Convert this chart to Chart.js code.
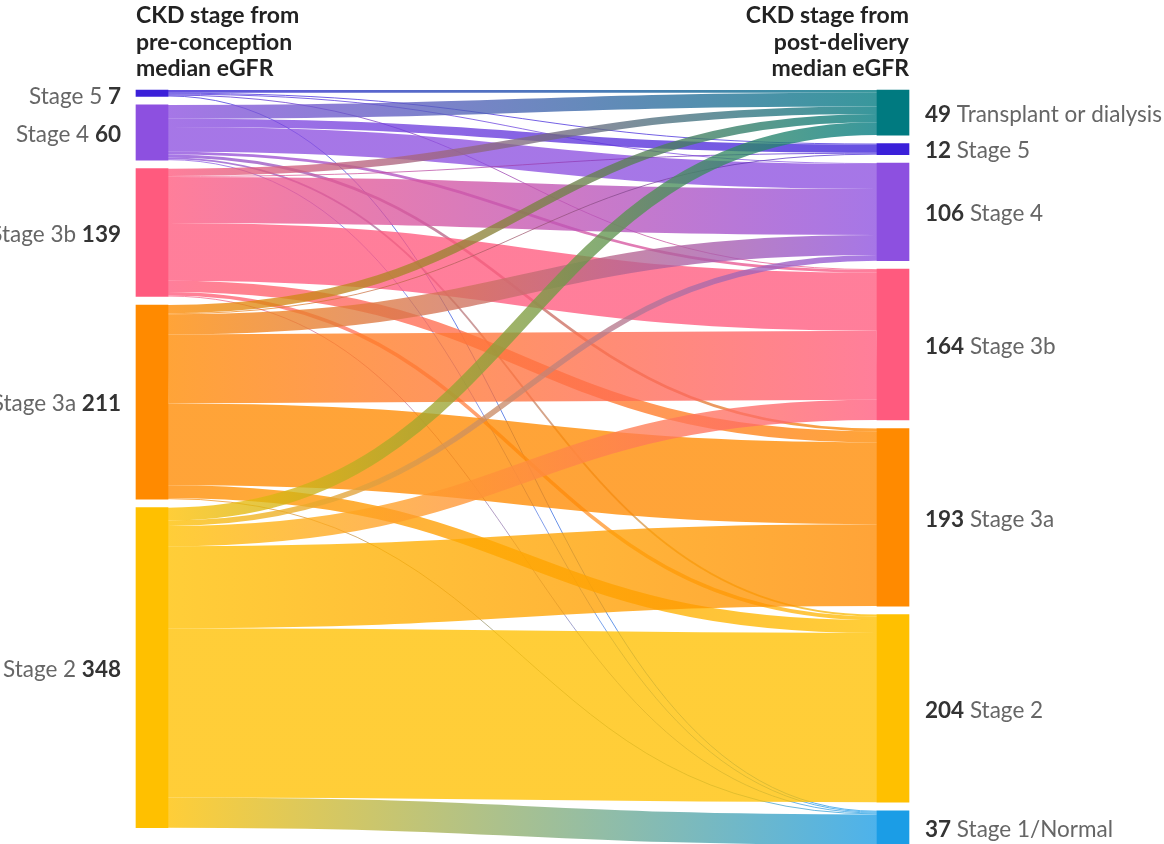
<!DOCTYPE html>
<html><head><meta charset="utf-8">
<script src="https://cdn.jsdelivr.net/npm/chart.js@4/dist/chart.umd.min.js"></script>
<style>html,body{margin:0;padding:0;background:#fff;overflow:hidden}#wrap{width:1164px;height:844px;position:relative}</style>
</head><body><div id="wrap"><canvas id="c"></canvas></div>
<script>
// ---- data ----
const sourceLabels = ['Stage 5', 'Stage 4', 'Stage 3b', 'Stage 3a', 'Stage 2'];
const targetLabels = ['Transplant or dialysis', 'Stage 5', 'Stage 4', 'Stage 3b', 'Stage 3a', 'Stage 2', 'Stage 1/Normal'];
// patients moving from each pre-conception stage into each post-delivery stage (order of targetLabels)
const fromStage5  = [3, 1, 1, 1, 0, 0, 1];
const fromStage4  = [15, 9, 27, 3, 3, 2, 1];
const fromStage3b = [8, 1, 50, 63, 12, 4, 1];
const fromStage3a = [9, 1, 22, 75, 89, 14, 1];
const fromStage2  = [14, 0, 6, 22, 89, 184, 33];
const leftTitle  = ['CKD stage from', 'pre-conception', 'median eGFR'];
const rightTitle = ['CKD stage from', 'post-delivery', 'median eGFR'];

// ---- styles ----
const sourceColors = ['#3b20d9', '#8d50e0', '#ff5a7e', '#ff8a00', '#ffc000'];
const targetColors = ['#007a80', '#3b20d9', '#8d50e0', '#ff5a7e', '#ff8a00', '#ffc000', '#1b9de6'];
const FONT = 'Lato, "Open Sans", sans-serif';

const flows = [fromStage5, fromStage4, fromStage3b, fromStage3a, fromStage2];
const sourceTotals = flows.map(r => r.reduce((a, b) => a + b, 0));
const targetTotals = targetLabels.map((_, j) => flows.reduce((a, r) => a + r[j], 0));

const GAP = 9.24;          // gap between nodes, in value units
const NODE_W = 32 / 773;   // node width as fraction of x range
const Y_MAX = 819.6;

function stack(totals) {
  let y = 0;
  return totals.map(t => { const n = [y, y + t]; y += t + GAP; return n; });
}
const srcPos = stack(sourceTotals);
const tgtPos = stack(targetTotals);

const linkPlugin = {
  id: 'links',
  beforeDatasetsDraw(chart) {
    const ctx = chart.ctx, xs = chart.scales.x, ys = chart.scales.y;
    const x0 = xs.getPixelForValue(NODE_W), x1 = xs.getPixelForValue(1 - NODE_W);
    const xm = (x0 + x1) / 2;
    const tOff = targetTotals.map(() => 0);
    const links = [];
    flows.forEach((row, i) => {
      let sOff = 0;
      row.forEach((v, j) => {
        if (v <= 0) return;
        links.push({ i, j, v, sy: srcPos[i][0] + sOff + v / 2 });
        sOff += v;
      });
    });
    links.forEach(l => {
      l.ty = tgtPos[l.j][0] + tOff[l.j] + l.v / 2;
      tOff[l.j] += l.v;
    });
    ctx.save();
    ctx.globalAlpha = 0.78;
    ctx.lineCap = 'butt';
    links.forEach(l => {
      const ya = ys.getPixelForValue(l.sy), yb = ys.getPixelForValue(l.ty);
      const w = Math.abs(ys.getPixelForValue(l.v) - ys.getPixelForValue(0));
      const g = ctx.createLinearGradient(x0, 0, x1, 0);
      g.addColorStop(0, sourceColors[l.i]);
      g.addColorStop(1, targetColors[l.j]);
      ctx.strokeStyle = g;
      ctx.lineWidth = w;
      ctx.beginPath();
      ctx.moveTo(x0, ya);
      ctx.bezierCurveTo(xm, ya, xm, yb, x1, yb);
      ctx.stroke();
    });
    ctx.restore();
  },
  afterDraw(chart) {
    const ctx = chart.ctx, xs = chart.scales.x, ys = chart.scales.y;
    ctx.save();
    ctx.textBaseline = 'middle';
    const reg = '22.5px ' + FONT, bold = 'bold 22.5px ' + FONT;
    const lx = xs.getPixelForValue(0) - 15;
    sourceLabels.forEach((name, i) => {
      const yc = ys.getPixelForValue((srcPos[i][0] + srcPos[i][1]) / 2) + (i === 0 ? 4 : 2);
      ctx.textAlign = 'right';
      ctx.font = bold; ctx.fillStyle = '#333';
      const val = String(sourceTotals[i]);
      ctx.fillText(val, lx, yc);
      const vw = ctx.measureText(val).width;
      ctx.font = reg; ctx.fillStyle = '#666';
      ctx.fillText(name + ' ', lx - vw, yc);
    });
    const rx = xs.getPixelForValue(1) + 16;
    targetLabels.forEach((name, j) => {
      const yc = ys.getPixelForValue((tgtPos[j][0] + tgtPos[j][1]) / 2) + 2;
      ctx.textAlign = 'left';
      ctx.font = bold; ctx.fillStyle = '#333';
      const val = String(targetTotals[j]);
      ctx.fillText(val, rx, yc);
      const vw = ctx.measureText(val).width;
      ctx.font = reg; ctx.fillStyle = '#666';
      ctx.fillText(' ' + name, rx + vw, yc);
    });
    ctx.font = 'bold 23px ' + FONT; ctx.fillStyle = '#222';
    ctx.textBaseline = 'alphabetic';
    ctx.textAlign = 'left';
    leftTitle.forEach((t, k) => ctx.fillText(t, xs.getPixelForValue(0), 23 + k * 26.5));
    ctx.textAlign = 'right';
    rightTitle.forEach((t, k) => ctx.fillText(t, xs.getPixelForValue(1), 23 + k * 26.5));
    ctx.restore();
  }
};

new Chart(document.getElementById('c'), {
  type: 'bar',
  data: {
    datasets: [
      {
        label: 'pre-conception',
        data: sourceTotals.map((_, i) => ({ x: NODE_W / 2, y: srcPos[i] })),
        backgroundColor: sourceColors,
        barThickness: 32,
        grouped: false,
        clip: false
      },
      {
        label: 'post-delivery',
        data: targetTotals.map((_, j) => ({ x: 1 - NODE_W / 2, y: tgtPos[j] })),
        backgroundColor: targetColors,
        barThickness: 32,
        grouped: false,
        clip: false
      }
    ]
  },
  options: {
    responsive: true,
    maintainAspectRatio: false,
    animation: false,
    layout: { padding: { left: 136, right: 255, top: 90, bottom: 0 } },
    plugins: { legend: { display: false }, tooltip: { enabled: false }, title: { display: false } },
    scales: {
      x: { type: 'linear', min: 0, max: 1, offset: false, display: false },
      y: { type: 'linear', min: 0, max: Y_MAX, reverse: true, display: false }
    }
  },
  plugins: [linkPlugin]
});
</script></body></html>
